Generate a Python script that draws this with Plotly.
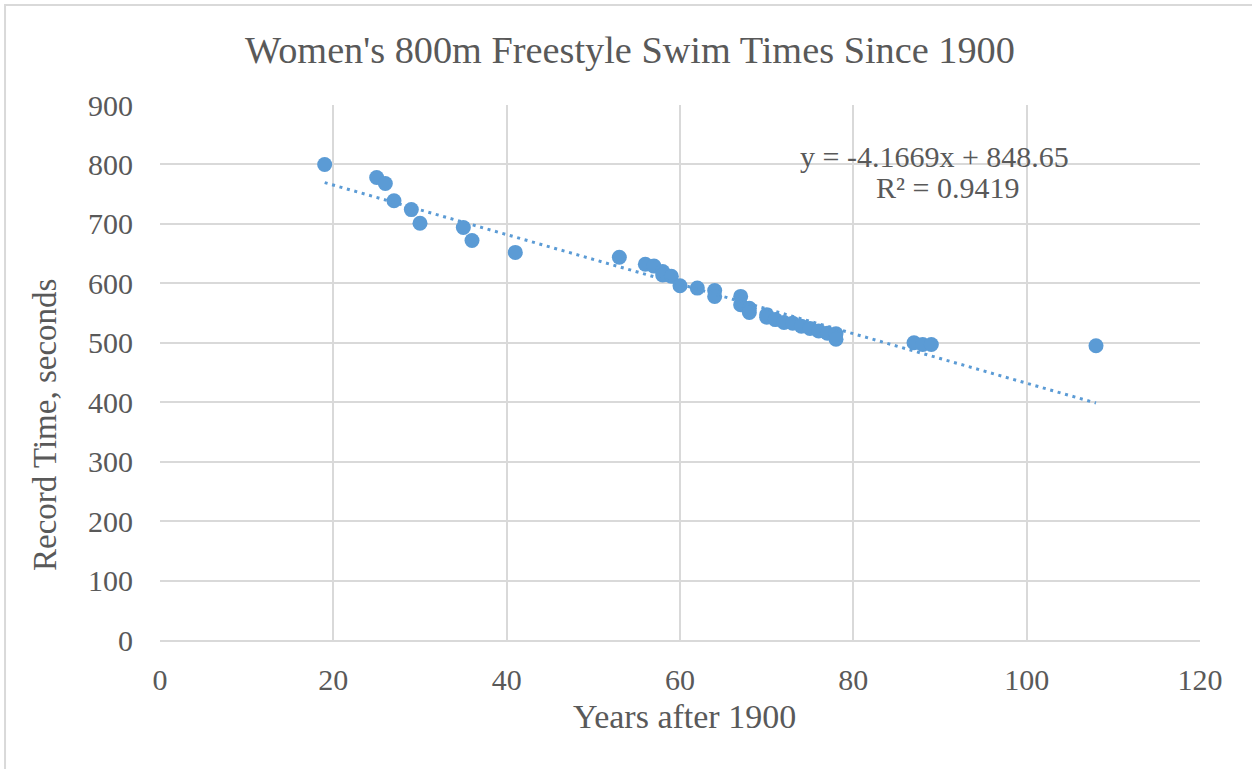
import plotly.graph_objects as go

years = [19, 25, 26, 27, 29, 30, 35, 36, 41, 53, 56, 57, 58, 58, 59, 60, 62, 64, 64,
         67, 67, 68, 68, 70, 70, 71, 72, 73, 74, 75, 76, 77, 78, 78, 87, 88, 89, 108]
times = [800, 778, 768, 739, 724, 701, 694, 672, 652, 644, 632, 629, 620, 614, 612, 596, 592, 588, 578,
         578, 564, 558, 551, 547, 543, 539, 534, 533, 528, 524, 520, 516, 515, 506, 500, 497, 497, 495]

slope = -4.1669
intercept = 848.65
trend_x = [min(years), max(years)]
trend_y = [slope * v + intercept for v in trend_x]

title_text = "Women's 800m Freestyle Swim Times Since 1900"
x_title = "Years after 1900"
y_title = "Record Time, seconds"
eq_text = "y = -4.1669x + 848.65"
r2_text = "R² = 0.9419"

color = "#5B9BD5"
gray = "#595959"
grid = "#D9D9D9"
ff = "Liberation Serif"

fig = go.Figure()
fig.add_trace(go.Scatter(x=years, y=times, mode="markers",
                         marker=dict(color=color, size=15), showlegend=False))
fig.add_trace(go.Scatter(x=trend_x, y=trend_y, mode="lines",
                         line=dict(color=color, width=3, dash="3px,4.7px"), showlegend=False))

fig.update_layout(
    width=1252, height=769,
    margin=dict(l=160, r=52, t=105, b=129),
    paper_bgcolor="white", plot_bgcolor="white",
    font=dict(family=ff, color=gray, size=30),
    title=dict(text=title_text, x=630 / 1252, xanchor="center",
               y=1 - 50 / 769, yanchor="middle", xref="container", yref="container",
               font=dict(size=38.3, color=gray, family=ff)),
    xaxis=dict(range=[0, 120], dtick=20, showgrid=True, gridcolor=grid, gridwidth=1.5,
               zeroline=False, showline=True, linecolor=grid, linewidth=1.5,
               ticks="", ticklabelstandoff=12, tickfont=dict(size=30, color=gray, family=ff)),
    yaxis=dict(range=[0, 900], dtick=100, showgrid=True, gridcolor=grid, gridwidth=1.5,
               zeroline=False, showline=False, ticks="", ticklabelstandoff=26,
               tickfont=dict(size=30, color=gray, family=ff)),
    annotations=[
        dict(text=eq_text, xref="x", yref="y", x=89.4, y=812.6, showarrow=False,
             font=dict(size=30, color=gray, family=ff)),
        dict(text=r2_text, xref="x", yref="y", x=90.9, y=762, showarrow=False,
             font=dict(size=30, color=gray, family=ff)),
        dict(text=x_title, xref="paper", yref="paper", x=(684 - 160) / 1040, y=(640 - 716) / 535,
             showarrow=False, xanchor="center", yanchor="middle",
             font=dict(size=34, color=gray, family=ff)),
        dict(text=y_title, xref="paper", yref="paper", x=(45 - 160) / 1040, y=(640 - 425) / 535,
             showarrow=False, xanchor="center", yanchor="middle", textangle=-90,
             font=dict(size=33, color=gray, family=ff)),
    ],
    shapes=[dict(type="path", xref="paper", yref="paper",
                 path="M -0.149 -0.4 L -0.149 1.187 L 1.2 1.187",
                 line=dict(color=grid, width=2), layer="below")],
)

fig.write_html("out.html", config={"displayModeBar": False},
               post_script="document.body.style.margin='0';")
